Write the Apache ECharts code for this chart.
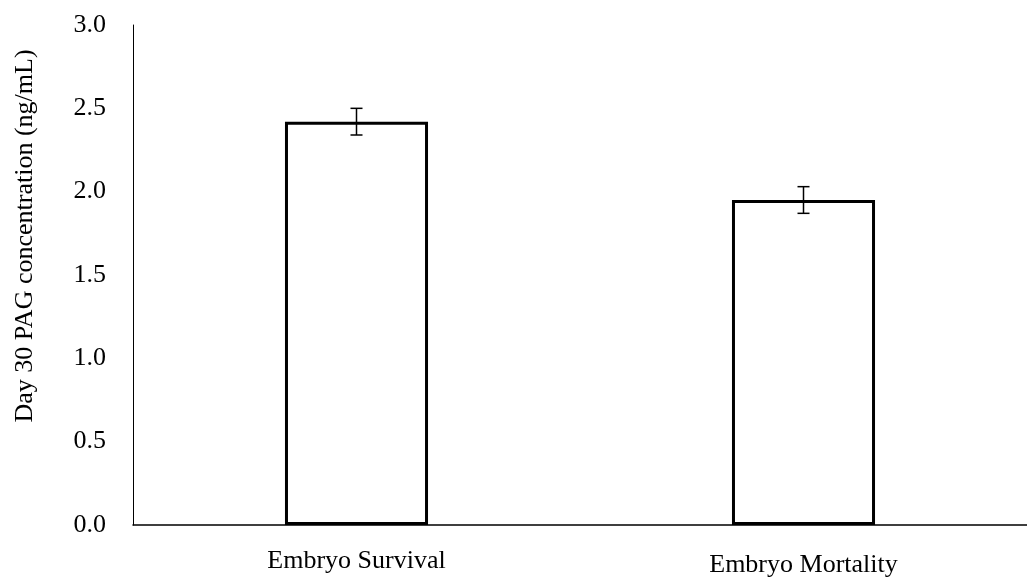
<!DOCTYPE html>
<html>
<head>
<meta charset="utf-8">
<script src="https://cdn.jsdelivr.net/npm/echarts@6/dist/echarts.min.js"></script>
<style>html,body{margin:0;padding:0;background:#fff;}#c{width:1027px;height:579px;}</style>
</head>
<body>
<div id="c"></div>
<script>
var categories = ['Embryo Survival', 'Embryo Mortality'];
var means = [2.42, 1.95];
var errors = [0.08, 0.08];
var yTicks = [0, 0.5, 1.0, 1.5, 2.0, 2.5, 3.0];

var chart = echarts.init(document.getElementById('c'));
var font = '"Liberation Serif", "Times New Roman", serif';
chart.setOption({
  animation: false,
  backgroundColor: '#fff',
  grid: { left: 133, right: -11, top: 25, bottom: 54 },
  xAxis: {
    type: 'category',
    data: categories.map(function (c, i) {
      return { value: c, textStyle: { padding: [i === 1 ? 4 : 0, 0, 0, 0] } };
    }),
    axisLine: { lineStyle: { color: '#000', width: 1.5 } },
    axisTick: { show: false },
    axisLabel: { color: '#000', fontFamily: font, fontSize: 26, margin: 23 }
  },
  yAxis: {
    type: 'value',
    min: yTicks[0],
    max: yTicks[yTicks.length - 1],
    interval: 0.5,
    name: 'Day 30 PAG concentration (ng/mL)',
    nameLocation: 'middle',
    nameGap: 95,
    nameTextStyle: { color: '#000', fontFamily: font, fontSize: 26, padding: [0, 0, 0, 78] },
    axisLine: { show: true, lineStyle: { color: '#000', width: 1 } },
    axisTick: { show: false },
    splitLine: { show: false },
    axisLabel: {
      color: '#000', fontFamily: font, fontSize: 26, margin: 27,
      formatter: function (v) { return v.toFixed(1); }
    }
  },
  series: [
    {
      type: 'bar',
      data: means,
      barWidth: '32%',
      itemStyle: { color: '#fff', borderColor: '#000', borderWidth: 3 }
    },
    {
      type: 'custom',
      data: means.map(function (m, i) { return [i, m - errors[i], m + errors[i]]; }),
      renderItem: function (params, api) {
        var lo = api.coord([api.value(0), api.value(1)]);
        var hi = api.coord([api.value(0), api.value(2)]);
        var hw = 6;
        var st = { stroke: '#000', lineWidth: 1.5, fill: null };
        return {
          type: 'group',
          children: [
            { type: 'line', shape: { x1: hi[0], y1: hi[1], x2: lo[0], y2: lo[1] }, style: st },
            { type: 'line', shape: { x1: hi[0] - hw, y1: hi[1], x2: hi[0] + hw, y2: hi[1] }, style: st },
            { type: 'line', shape: { x1: lo[0] - hw, y1: lo[1], x2: lo[0] + hw, y2: lo[1] }, style: st }
          ]
        };
      },
      z: 10
    }
  ]
});
</script>
</body>
</html>
